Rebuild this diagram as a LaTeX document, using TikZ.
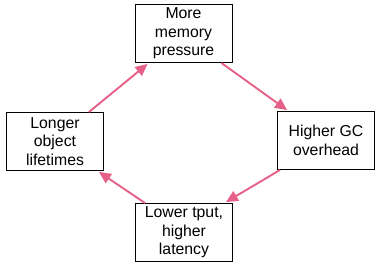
\documentclass[tikz,border=0pt]{standalone}
\usepackage{fontspec}
\setmainfont{Liberation Sans}
\usetikzlibrary{arrows.meta}
\definecolor{arrowpink}{RGB}{230,96,136}
\tikzset{
  box/.style={draw=black, line width=0.9pt, fill=white, minimum width=97pt, minimum height=58pt,
    inner sep=0pt, align=center, font=\fontsize{15.8pt}{18.5pt}\selectfont},
  cyc/.style={draw=arrowpink, line width=1.9pt, -{Triangle[length=12pt,width=11pt]}, shorten >=0pt}
}
\begin{document}
\begin{tikzpicture}[x=1pt,y=1pt]
\useasboundingbox (0,0) rectangle (381,269);
\node[box] (T) at (183.5,235.5) {More\\memory\\pressure};
\node[box] (R) at (326,128.5) {Higher GC\\overhead};
\node[box] (B) at (184,36.5) {Lower tput,\\higher\\latency};
\node[box] (L) at (55,127.5) {Longer\\object\\lifetimes};
\draw[cyc] ([xshift=-15pt]L.north east) -- ([xshift=13pt,yshift=-1pt]T.south west);
\draw[cyc] ([xshift=-11pt]T.south east) -- ([xshift=10pt,yshift=1pt]R.north west);
\draw[cyc] ([xshift=3pt]R.south west) -- ([xshift=-7pt,yshift=1pt]B.north east);
\draw[cyc] ([xshift=10pt]B.north west) -- ([xshift=-5pt,yshift=-1pt]L.south east);
\end{tikzpicture}
\end{document}
